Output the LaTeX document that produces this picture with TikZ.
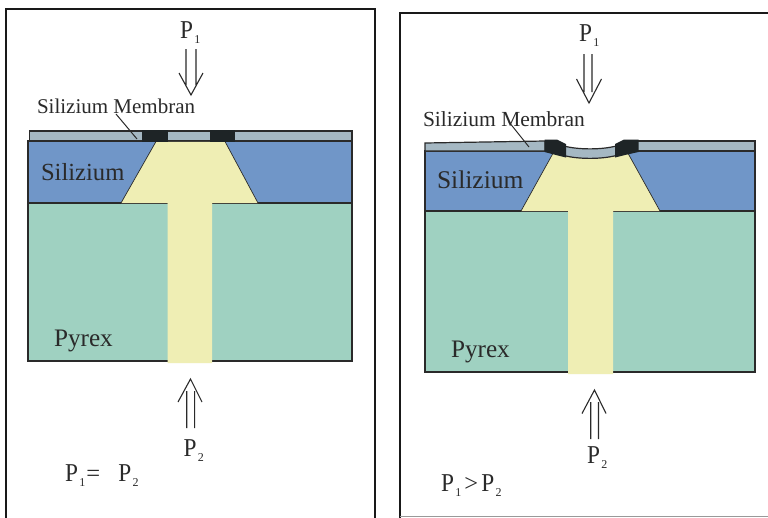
\documentclass[tikz,border=0pt]{standalone}
\usepackage{fontspec}
\setmainfont{Liberation Serif}
\definecolor{sil}{HTML}{7096C8}
\definecolor{pyr}{HTML}{9FD1C1}
\definecolor{gel}{HTML}{EFEEB4}
\definecolor{mem}{HTML}{A5B8C3}
\definecolor{blk}{HTML}{1E2426}
\definecolor{lin}{HTML}{2A2A2A}
\newcommand{\Pn}[1]{\scalebox{0.95}[1.05]{P}\kern1.5pt\raisebox{-5pt}{\fontsize{12}{12}\selectfont #1}}
\tikzset{
 every node/.style={inner sep=0pt,outer sep=0pt,anchor=base west,text=lin},
 bigl/.style={font=\fontsize{24.6}{25}\selectfont},
 bigr/.style={font=\fontsize{25.5}{26}\selectfont},
 pyl/.style={font=\fontsize{25.2}{26}\selectfont},
 press/.style={font=\fontsize{24.5}{25}\selectfont},
 labl/.style={font=\fontsize{21}{22}\selectfont},
 labr/.style={font=\fontsize{21.5}{22}\selectfont},
 frame/.style={draw=black!90,line width=2pt},
 layer/.style={draw=lin,line width=1.2pt},
 arrowline/.style={draw=lin,line width=1.1pt,line join=miter},
 leader/.style={draw=lin,line width=1pt}
}
\begin{document}
\begin{tikzpicture}[x=1pt,y=-1pt]
\useasboundingbox (0,0) rectangle (768,517);
\fill[white] (0,0) rectangle (768,517);
% frames
\draw[frame] (6,530) -- (6,8.5) -- (374.5,8.5) -- (374.5,530);
\draw[frame] (400,530) -- (400,12.5) -- (780,12.5);
\draw[draw=black!40,line width=1pt] (400,516) -- (768,516);
% ---- left device
\path[layer,fill=pyr] (28,203) rectangle (352,361);
\path[layer,fill=sil] (28,141) rectangle (352,203);
\path[layer,fill=mem] (29.5,131) rectangle (352,141);
\fill[gel] (156,141.8) -- (225,141.8) -- (258,203) -- (212,203) -- (212,363) -- (167.5,363) -- (167.5,203) -- (121,203) -- cycle;
\draw[draw=lin,line width=.7pt] (121,203) -- (156,141.5) (225,141.5) -- (258,203);
\fill[blk] (142,130) rectangle (168,142);
\fill[blk] (210,130) rectangle (235,142);
% ---- right device
\path[layer,fill=pyr] (425,211) rectangle (755,372);
\path[layer,fill=sil] (425,151) rectangle (755,211);
\fill[gel] (554,151.5) .. controls (570,160) and (610,160) .. (627,151.5) -- (660,211) -- (613,211) -- (613,374) -- (568,374) -- (568,211) -- (521,211) -- cycle;
\draw[draw=lin,line width=.7pt] (521,211) -- (554,151.5) (627,151.5) -- (660,211);
\path[layer,fill=mem] (425,143) -- (545,141) -- (545,151) -- (425,151) -- cycle;
\path[layer,fill=mem] (637,141) -- (755,141) -- (755,151) -- (637,151) -- cycle;
\path[layer,fill=mem] (562,145.5) .. controls (577,150) and (603,150) .. (618,145.5) -- (618,155) .. controls (603,159.5) and (577,159.5) .. (562,155) -- cycle;
\fill[blk] (544.5,139.5) -- (557,139.5) -- (566,144) -- (566,157.5) -- (556,155) -- (544.5,152) -- cycle;
\fill[blk] (638.5,139.5) -- (624,139.5) -- (615,144) -- (615,157.5) -- (625,155) -- (638.5,152) -- cycle;
% ---- labels left
\node[press] (p1l) at (180,38) {\Pn{1}};
\node[press] (p2l) at (183.5,456) {\Pn{2}};
\node[press] (eql) at (65,481) {\Pn{1}\kern1pt=\kern18pt\Pn{2}};
\node[labl] (meml) at (37,113) {Silizium Membran};
\node[bigl] (sill) at (41,180) {Silizium};
\node[pyl] (pyrl) at (54,346) {Pyrex};
% ---- labels right
\node[press] (p1r) at (579,41) {\Pn{1}};
\node[press] (p2r) at (587,463) {\Pn{2}};
\node[press] (eqr) at (441,491) {\Pn{1}\kern3pt>\kern3pt\Pn{2}};
\node[labr] (memr) at (423,126) {Silizium Membran};
\node[bigr] (silr) at (437,188) {Silizium};
\node[pyl] (pyrr) at (451,357) {Pyrex};
% ---- leaders
\coordinate (tl) at (137,139);
\coordinate (tr) at (529,147);
\draw[leader] (116,114) -- (tl);
\draw[leader] (509,122) -- (tr);
% ---- pressure arrows
\draw[arrowline] (186,49) -- (186,85) (196,49) -- (196,85) (179,73) -- (191,95) -- (203,73);
\draw[arrowline] (186.7,428) -- (186.7,391) (194.6,428) -- (194.6,391) (178,402) -- (190.5,379) -- (202,402);
\draw[arrowline] (584,54) -- (584,92) (592,54) -- (592,92) (576.5,79) -- (589,103) -- (601.5,79);
\draw[arrowline] (590.7,439) -- (590.7,402) (598.5,439) -- (598.5,402) (582,413.5) -- (594.5,390) -- (606,413.5);
\end{tikzpicture}
\end{document}
